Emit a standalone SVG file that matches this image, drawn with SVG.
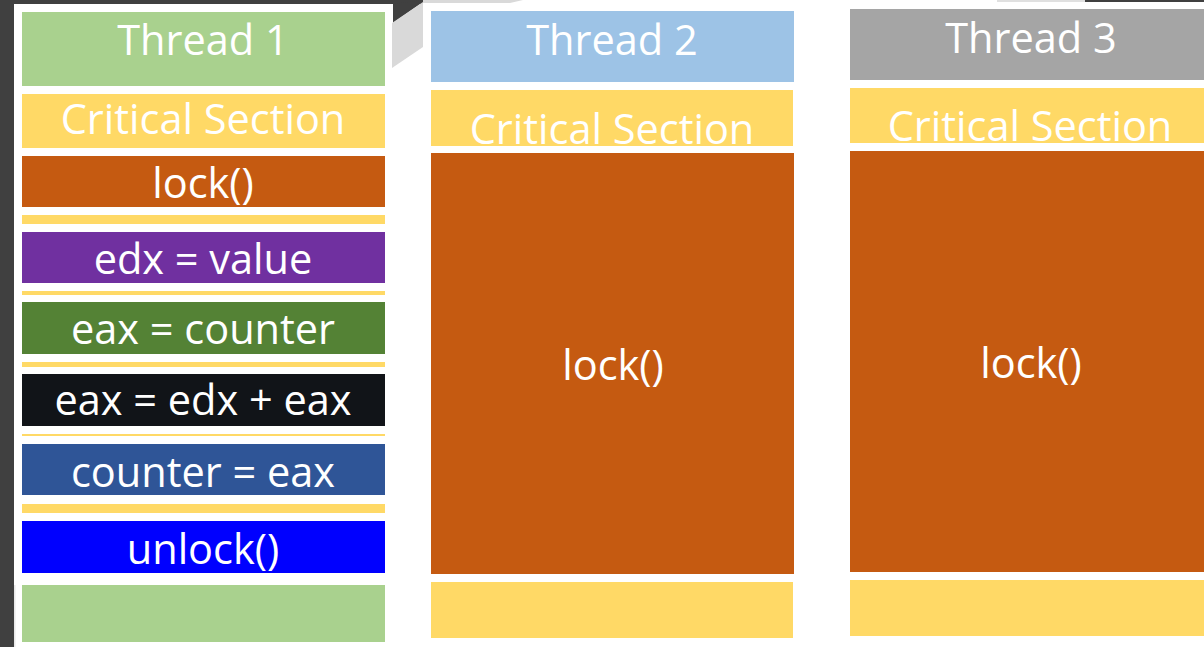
<svg xmlns="http://www.w3.org/2000/svg" width="1204" height="647" viewBox="0 0 1204 647">
<style>
.t{font-family:"Open Sans","Noto Sans","Liberation Sans",sans-serif;font-size:41.5px;fill:#ffffff;text-anchor:middle}
.y{fill:#ffd966}
.o{fill:#c55a11}
</style>
<rect x="0" y="0" width="1204" height="647" fill="#ffffff"/>
<g id="background">
<rect x="0" y="0" width="14" height="647" fill="#404040"/>
<rect x="0" y="0" width="423" height="4" fill="#404040"/>
<polygon points="393,4 423,0 423,2 393,23" fill="#404040"/>
<polygon points="392,23 423,2 423,47 392,68" fill="#d9d9d9"/>
<polygon points="423,0 523,0 510,3 423,3" fill="#d9d9d9"/>
<rect x="997" y="0" width="88" height="2" fill="#e0e0e0"/>
<rect x="1085" y="0" width="119" height="2" fill="#404040"/>
<rect x="14" y="585" width="1.5" height="62" fill="#e8e8e8"/>
</g>
<g id="thread1">
<rect x="22" y="12" width="363" height="74" fill="#a9d18e"/>
<text class="t" x="203" y="54.5">Thread 1</text>
<rect class="y" x="22" y="94" width="363" height="54"/>
<text class="t" x="203" y="133.5">Critical Section</text>
<rect class="o" x="22" y="156" width="363" height="51"/>
<text class="t" x="203" y="197.5">lock()</text>
<rect class="y" x="22" y="215" width="363" height="9"/>
<rect x="22" y="232" width="363" height="51" fill="#7030a0"/>
<text class="t" x="203" y="273.5">edx = value</text>
<rect class="y" x="22" y="291" width="363" height="4"/>
<rect x="22" y="302" width="363" height="52" fill="#548235"/>
<text class="t" x="203" y="343.5">eax = counter</text>
<rect class="y" x="22" y="362" width="363" height="5"/>
<rect x="22" y="374" width="363" height="52" fill="#111418"/>
<text class="t" x="203" y="414.5">eax = edx + eax</text>
<rect class="y" x="22" y="434" width="363" height="2"/>
<rect x="22" y="444" width="363" height="51" fill="#2f5597"/>
<text class="t" x="203" y="486.5">counter = eax</text>
<rect class="y" x="22" y="504" width="363" height="9"/>
<rect x="22" y="521" width="363" height="52" fill="#0000ff"/>
<text class="t" x="203" y="563.5">unlock()</text>
<rect x="22" y="585" width="363" height="57" fill="#a9d18e"/>
</g>
<g id="thread2">
<rect x="431" y="11" width="363" height="71" fill="#9dc3e6"/>
<text class="t" x="612" y="54.5">Thread 2</text>
<rect class="y" x="431" y="90" width="362" height="56"/>
<text class="t" x="612" y="143.5">Critical Section</text>
<rect class="o" x="431" y="153" width="363" height="421"/>
<text class="t" x="613" y="380">lock()</text>
<rect class="y" x="431" y="582" width="362" height="56"/>
</g>
<g id="thread3">
<rect x="850" y="9" width="363" height="71" fill="#a5a5a5"/>
<text class="t" x="1031" y="52.5">Thread 3</text>
<rect class="y" x="850" y="88" width="363" height="55"/>
<text class="t" x="1030" y="140.5">Critical Section</text>
<rect class="o" x="850" y="151" width="363" height="421"/>
<text class="t" x="1031" y="378">lock()</text>
<rect class="y" x="850" y="580" width="363" height="56"/>
</g>
<g id="connectors"/>
</svg>
